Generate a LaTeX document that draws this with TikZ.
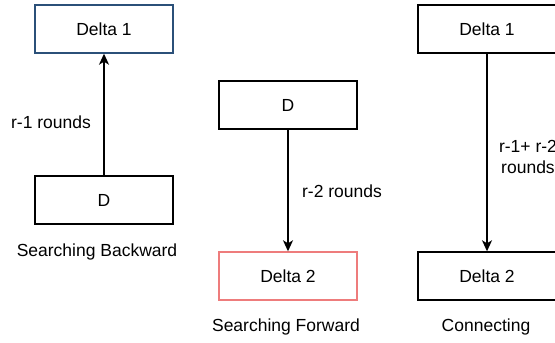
\documentclass[tikz,border=0pt]{standalone}
\usepackage{fontspec}
\setmainfont{Liberation Sans}
\usetikzlibrary{arrows.meta}
\definecolor{edgeBlue}{HTML}{2B5079}
\definecolor{edgeRed}{HTML}{EE7C7C}
\tikzset{
  blk/.style={draw, line width=1.4pt, minimum width=138pt, minimum height=48pt, font=\fontsize{17.5}{21}\selectfont},
  flow/.style={-{Stealth[length=11pt, width=10pt, inset=3pt]}, line width=1.4pt},
  lbl/.style={font=\fontsize{17.5}{21}\selectfont},
}

\begin{document}
\begin{tikzpicture}[x=1pt, y=-1pt]
  \useasboundingbox (0,0) rectangle (555,343);
  % backward search
  \node[blk, draw=edgeBlue] (bdelta) at (104,29) {Delta 1};
  \node[blk] (bd) at (104,200) {D};
  \draw[flow] (bd) -- (bdelta);
  \node[lbl] (blab) at (51,122) {r-1 rounds};
  \node[lbl] (bcap) at (97,252) {Searching Backward};
  % forward search
  \node[blk] (fd) at (288,105) {D};
  \node[blk, draw=edgeRed] (fdelta) at (288,276) {Delta 2};
  \draw[flow] (fd) -- (fdelta);
  \node[lbl] (flab) at (342,191) {r-2 rounds};
  \node[lbl] (fcap) at (286,327) {Searching Forward};
  % both ends meet
  \node[blk] (cone) at (487,29) {Delta 1};
  \node[blk] (ctwo) at (487,276) {Delta 2};
  \draw[flow] (cone) -- (ctwo);
  \node[lbl, align=center] (clab) at (528,157) {r-1+ r-2\\rounds};
  \node[lbl] (ccap) at (486,327) {Connecting};
\end{tikzpicture}
\end{document}
